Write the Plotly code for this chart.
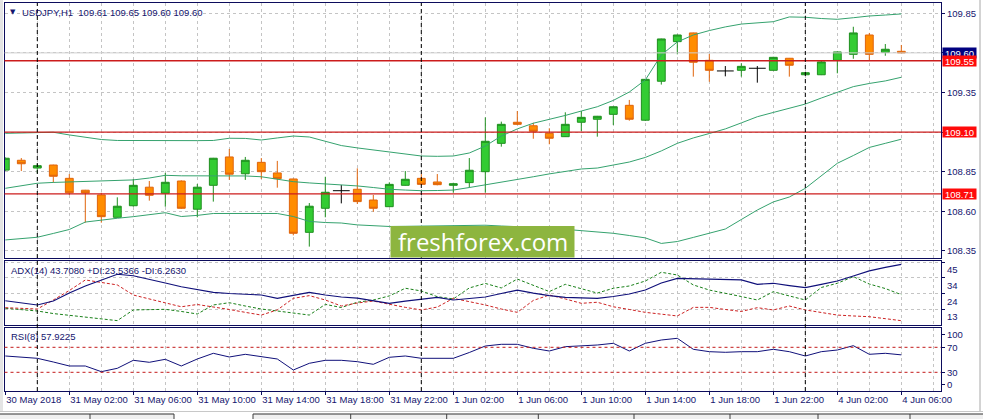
import pandas as pd
import plotly.graph_objects as go

# hourly bars, weekend skipped (30 May 22:00 .. 1 Jun 23:00, 4 Jun 00:00 .. 06:00)
times = list(pd.date_range('2018-05-30 22:00', '2018-06-01 23:00', freq='h')) + \
        list(pd.date_range('2018-06-04 00:00', '2018-06-04 06:00', freq='h'))
bars = list(range(len(times)))

open_ = [108.860, 108.922, 108.873, 108.892, 108.808, 108.733, 108.703, 108.562, 108.635, 108.752,
         108.714, 108.791, 108.613, 108.764, 108.943, 108.837, 108.909, 108.842, 108.804, 108.467,
         108.619, 108.730, 108.739, 108.671, 108.629, 108.764, 108.808, 108.785, 108.764, 108.781,
         108.850, 109.029, 109.162, 109.140, 109.092, 109.071, 109.162, 109.181, 109.212, 109.269,
         109.175, 109.421, 109.671, 109.726, 109.553, 109.486, 109.490, 109.503, 109.490, 109.566,
         109.462, 109.462, 109.553, 109.591, 109.713, 109.604, 109.610]
high = [108.940, 108.936, 108.899, 108.894, 108.835, 108.735, 108.717, 108.688, 108.804, 108.791,
        108.842, 108.795, 108.772, 108.937, 108.993, 108.943, 108.936, 108.918, 108.806, 108.652,
        108.818, 108.766, 108.871, 108.703, 108.783, 108.854, 108.835, 108.835, 108.780, 108.936,
        109.193, 109.166, 109.233, 109.159, 109.124, 109.225, 109.233, 109.202, 109.262, 109.303,
        109.435, 109.690, 109.715, 109.728, 109.593, 109.517, 109.534, 109.517, 109.575, 109.568,
        109.478, 109.549, 109.608, 109.765, 109.726, 109.656, 109.650]
low = [108.855, 108.854, 108.840, 108.780, 108.703, 108.528, 108.528, 108.560, 108.629, 108.667,
       108.629, 108.615, 108.562, 108.661, 108.798, 108.798, 108.804, 108.749, 108.448, 108.377,
       108.562, 108.650, 108.646, 108.597, 108.627, 108.762, 108.765, 108.764, 108.717, 108.749,
       108.717, 109.008, 109.145, 109.058, 109.023, 109.069, 109.107, 109.071, 109.145, 109.172,
       109.170, 109.400, 109.591, 109.450, 109.418, 109.452, 109.450, 109.412, 109.488, 109.450,
       109.460, 109.460, 109.471, 109.563, 109.553, 109.582, 109.600]
close = [108.935, 108.900, 108.888, 108.821, 108.717, 108.716, 108.566, 108.632, 108.764, 108.701,
         108.783, 108.619, 108.752, 108.935, 108.834, 108.922, 108.850, 108.806, 108.461, 108.632,
         108.720, 108.730, 108.661, 108.619, 108.770, 108.802, 108.770, 108.768, 108.774, 108.859,
         109.042, 109.149, 109.149, 109.105, 109.061, 109.149, 109.193, 109.200, 109.260, 109.181,
         109.433, 109.688, 109.713, 109.541, 109.490, 109.486, 109.515, 109.503, 109.572, 109.522,
         109.475, 109.543, 109.606, 109.726, 109.591, 109.623, 109.600]

bb_upper = [109.092, 109.094, 109.099, 109.099, 109.082, 109.069, 109.053, 109.047, 109.046, 109.046,
            109.046, 109.046, 109.046, 109.047, 109.061, 109.060, 109.050, 109.063, 109.075, 109.069,
            109.041, 109.015, 109.000, 108.987, 108.971, 108.959, 108.949, 108.947, 108.949, 108.968,
            109.012, 109.075, 109.120, 109.156, 109.180, 109.205, 109.233, 109.260, 109.300, 109.353,
            109.429, 109.587, 109.669, 109.713, 109.741, 109.764, 109.782, 109.789, 109.797, 109.827,
            109.825, 109.817, 109.812, 109.822, 109.833, 109.839, 109.846]
bb_mid = [108.745, 108.762, 108.777, 108.782, 108.785, 108.788, 108.793, 108.796, 108.798, 108.810,
          108.827, 108.824, 108.823, 108.824, 108.825, 108.823, 108.818, 108.804, 108.787, 108.779,
          108.772, 108.769, 108.760, 108.750, 108.739, 108.734, 108.730, 108.731, 108.734, 108.750,
          108.766, 108.782, 108.801, 108.818, 108.836, 108.851, 108.867, 108.873, 108.892, 108.911,
          108.940, 108.981, 109.029, 109.063, 109.091, 109.120, 109.158, 109.197, 109.224, 109.249,
          109.277, 109.315, 109.353, 109.387, 109.407, 109.423, 109.446]
bb_lower = [108.419, 108.427, 108.436, 108.460, 108.485, 108.532, 108.545, 108.556, 108.566, 108.579,
            108.591, 108.567, 108.574, 108.586, 108.587, 108.587, 108.587, 108.586, 108.567, 108.536,
            108.529, 108.526, 108.514, 108.510, 108.504, 108.505, 108.507, 108.508, 108.510, 108.511,
            108.512, 108.507, 108.504, 108.499, 108.495, 108.486, 108.479, 108.469, 108.461, 108.447,
            108.432, 108.397, 108.409, 108.435, 108.460, 108.488, 108.548, 108.608, 108.659, 108.690,
            108.745, 108.823, 108.903, 108.952, 109.003, 109.029, 109.055]

adx = [19.5, 18.0, 16.7, 19.3, 24.6, 29.3, 33.3, 37.1, 36.1, 33.9,
       31.3, 28.8, 27.0, 25.1, 24.3, 23.8, 23.3, 21.1, 23.0, 25.1,
       23.3, 22.0, 21.3, 19.7, 17.8, 19.3, 20.7, 21.7, 20.0, 21.0,
       22.0, 24.3, 26.6, 24.6, 22.9, 21.8, 21.5, 21.1, 22.3, 24.0,
       26.6, 31.3, 34.4, 34.1, 33.7, 33.5, 33.3, 30.4, 31.1, 29.6,
       28.2, 30.4, 32.6, 35.9, 39.3, 41.6, 43.708]
plus_di = [14.5, 13.6, 12.7, 11.0, 9.8, 8.7, 7.4, 6.3, 13.4, 13.6,
           13.8, 12.4, 10.7, 16.7, 18.2, 16.0, 14.0, 12.7, 11.2, 10.0,
           17.1, 15.0, 18.5, 20.0, 22.7, 27.8, 26.0, 22.2, 20.7, 28.0,
           31.0, 28.0, 33.9, 30.0, 25.6, 30.4, 27.6, 24.6, 27.8, 29.3,
           32.6, 38.4, 36.6, 30.0, 26.6, 24.6, 22.3, 20.0, 25.5, 22.7,
           20.0, 28.3, 31.1, 35.5, 30.6, 27.6, 23.5366]
minus_di = [14.9, 14.5, 14.0, 20.0, 26.3, 33.3, 31.9, 30.0, 23.3, 20.7,
            18.0, 15.5, 17.0, 15.5, 13.7, 11.8, 10.0, 13.4, 21.1, 22.9,
            20.0, 16.0, 18.0, 19.3, 17.1, 15.1, 13.4, 15.3, 21.1, 19.0,
            16.7, 14.0, 11.8, 19.7, 23.3, 20.7, 17.8, 18.5, 15.5, 13.7,
            11.8, 10.6, 9.4, 15.1, 15.1, 13.7, 12.4, 14.9, 13.4, 16.0,
            13.4, 11.7, 10.0, 9.4, 8.9, 7.6, 6.263]

rsi = [56.1, 54.5, 52.4, 46.5, 40.1, 40.1, 31.0, 36.4, 49.2, 46.0,
       50.8, 40.1, 51.3, 60.4, 54.5, 58.8, 54.5, 51.3, 33.7, 44.4,
       49.2, 49.2, 47.0, 42.8, 54.0, 56.1, 52.4, 52.4, 52.4, 61.7,
       72.1, 74.8, 74.8, 68.4, 64.1, 71.0, 72.1, 73.7, 76.4, 64.1,
       76.4, 81.7, 84.4, 66.8, 63.0, 62.0, 63.0, 63.0, 66.8, 63.0,
       56.1, 63.0, 65.7, 72.6, 58.8, 60.4, 57.9225]

tick_bars = list(range(0, 57, 4))
tick_labels = ['30 May 2018', '31 May 02:00', '31 May 06:00', '31 May 10:00', '31 May 14:00',
               '31 May 18:00', '31 May 22:00', '1 Jun 02:00', '1 Jun 06:00', '1 Jun 10:00',
               '1 Jun 14:00', '1 Jun 18:00', '1 Jun 22:00', '4 Jun 02:00', '4 Jun 06:00']
price_ticks = [108.35, 108.60, 108.85, 109.10, 109.35, 109.60, 109.85]
levels = [109.55, 109.10, 108.71]
bid = 109.60
rsi_levels = [70, 30]

W, H = 983, 419
NAVY = '#0c0c5c'
TXT = '#14146e'
FONT = 'Liberation Sans, Arial, sans-serif'
GRID = '#c4c4c4'


def px_x(v):
    return v / W


def px_y(v):
    return 1 - v / H


separators = [i for i, t in zip(bars, times) if t.hour == 0]
doji = [i for i in bars if open_[i] == close[i]]
normal = [i for i in bars if open_[i] != close[i]]

fig = go.Figure()

fig.add_trace(go.Candlestick(
    x=normal, open=[open_[i] for i in normal], high=[high[i] for i in normal],
    low=[low[i] for i in normal], close=[close[i] for i in normal],
    increasing=dict(line=dict(color='#1f8f1f', width=1), fillcolor='#33cc33'),
    decreasing=dict(line=dict(color='#e0640c', width=1), fillcolor='#ff8c00'),
    xaxis='x', yaxis='y'))
fig.add_trace(go.Scatter(
    x=doji, y=[open_[i] for i in doji], mode='markers',
    marker=dict(symbol='line-ew', size=12, line=dict(color='black', width=1)),
    error_y=dict(type='data', symmetric=False,
                 array=[high[i] - open_[i] for i in doji],
                 arrayminus=[open_[i] - low[i] for i in doji],
                 color='black', thickness=1, width=0),
    xaxis='x', yaxis='y'))
for band in (bb_upper, bb_mid, bb_lower):
    fig.add_trace(go.Scatter(x=bars, y=band, mode='lines',
                             line=dict(color='#35a26e', width=1), xaxis='x', yaxis='y'))

fig.add_trace(go.Scatter(x=bars, y=plus_di, mode='lines',
                         line=dict(color='#1a801a', width=1, dash='3px,2px'), xaxis='x2', yaxis='y2'))
fig.add_trace(go.Scatter(x=bars, y=minus_di, mode='lines',
                         line=dict(color='#cc2222', width=1, dash='3px,2px'), xaxis='x2', yaxis='y2'))
fig.add_trace(go.Scatter(x=bars, y=adx, mode='lines',
                         line=dict(color='#10107a', width=1.2), xaxis='x2', yaxis='y2'))

fig.add_trace(go.Scatter(x=bars, y=rsi, mode='lines',
                         line=dict(color='#10107a', width=1), xaxis='x3', yaxis='y3'))

xdom = [px_x(4.5), px_x(941)]
xrange_ = [-0.05, 58.48]
xcommon = dict(domain=xdom, range=xrange_, showline=True, mirror=True, linecolor=NAVY,
               linewidth=1, tickmode='array', tickvals=tick_bars, showgrid=True,
               gridcolor=GRID, griddash='3px,3px', zeroline=False, fixedrange=True,
               automargin=False, tickangle=0,
               minor=dict(tickmode='linear', tick0=0, dtick=2, showgrid=True,
                          gridcolor=GRID, griddash='3px,3px'))
ycommon = dict(side='right', showline=True, mirror=True, linecolor=NAVY, linewidth=1,
               ticks='outside', ticklen=3, tickcolor=NAVY, zeroline=False, automargin=False,
               tickfont=dict(family=FONT, size=9.5, color=TXT), fixedrange=True)

fig.update_layout(
    width=W, height=H, margin=dict(l=0, r=0, t=0, b=0, pad=0), autosize=False,
    paper_bgcolor='white', plot_bgcolor='white', showlegend=False,
    xaxis=dict(xcommon, anchor='y', showticklabels=False, rangeslider=dict(visible=False)),
    xaxis2=dict(xcommon, anchor='y2', showticklabels=False, matches='x'),
    xaxis3=dict(xcommon, anchor='y3', matches='x', ticktext=tick_labels, ticks='outside',
                ticklen=3, tickcolor=NAVY, ticklabelposition='outside right',
                tickfont=dict(family=FONT, size=9.5, color=TXT)),
    yaxis=dict(ycommon, anchor='x', domain=[px_y(258), px_y(3)], range=[108.305, 109.915],
               tickmode='array', tickvals=price_ticks,
               ticktext=['' if v in levels or v == bid else '%.2f' % v for v in price_ticks],
               showgrid=True, gridcolor=GRID, griddash='3px,3px'),
    yaxis2=dict(ycommon, anchor='x2', domain=[px_y(324.5), px_y(261)], range=[3.73, 45.89],
                tickmode='array', tickvals=[45.2, 34.8, 24.4, 14.0],
                ticktext=['45', '34', '24', '13'], ticklabelshift=8,
                showgrid=True, gridcolor=GRID, griddash='3px,3px'),
    yaxis3=dict(ycommon, anchor='x3', domain=[px_y(391), px_y(327.5)], range=[0.08, 101.7],
                tickmode='array', tickvals=[90.8, 70, 30, 10.8],
                ticktext=['100', '70', '30', '0'], showgrid=False),
)

shapes = []
# bid line
shapes.append(dict(type='line', xref='paper', yref='y', x0=xdom[0], x1=xdom[1], y0=bid, y1=bid,
                   line=dict(color='#cfcfcf', width=1)))
for lv in levels:
    shapes.append(dict(type='line', xref='paper', yref='y', x0=xdom[0], x1=xdom[1], y0=lv, y1=lv,
                       line=dict(color='#cc1c1c', width=1.4)))
for lv in rsi_levels:
    shapes.append(dict(type='line', xref='paper', yref='y3', x0=xdom[0], x1=xdom[1], y0=lv, y1=lv,
                       line=dict(color='#c41a1a', width=1, dash='3px,3px')))
for s in separators:
    shapes.append(dict(type='line', xref='x', yref='paper', x0=s, x1=s, y0=px_y(391), y1=px_y(3),
                       line=dict(color='black', width=1, dash='4px,3px')))
# watermark box
shapes.append(dict(type='rect', xref='paper', yref='paper', x0=px_x(390.5), x1=px_x(574.5),
                   y0=px_y(257.5), y1=px_y(226), fillcolor='#8db53f', line=dict(width=0),
                   layer='above'))
# window frame bits
shapes.append(dict(type='rect', xref='paper', yref='paper', x0=0, x1=px_x(3), y0=px_y(411), y1=1,
                   fillcolor='#e4e4e4', line=dict(width=0)))
shapes.append(dict(type='line', xref='paper', yref='paper', x0=px_x(980), x1=px_x(980),
                   y0=px_y(411), y1=1, line=dict(color='#a8a8a8', width=1)))
shapes.append(dict(type='line', xref='paper', yref='paper', x0=0, x1=1,
                   y0=px_y(411.5), y1=px_y(411.5), line=dict(color='#c8c8c8', width=1)))
# terminal tabs along the bottom
for x0, x1 in [(0, 174), (253, 983)]:
    shapes.append(dict(type='rect', xref='paper', yref='paper', x0=px_x(x0), x1=px_x(x1),
                       y0=0, y1=px_y(414), fillcolor='#f0f0f0', line=dict(width=0)))
    shapes.append(dict(type='line', xref='paper', yref='paper', x0=px_x(x0), x1=px_x(x1),
                       y0=px_y(414), y1=px_y(414), line=dict(color='#303030', width=1)))
for tx in [90, 174, 253, 350.7, 446.7, 538.3, 634, 730, 818, 910]:
    shapes.append(dict(type='line', xref='paper', yref='paper', x0=px_x(tx), x1=px_x(tx),
                       y0=0, y1=px_y(414), line=dict(color='#404040', width=1)))
fig.update_layout(shapes=shapes)

ann = []
ann.append(dict(xref='paper', yref='paper', x=px_x(8), y=px_y(12.3), xanchor='left', yanchor='middle',
                text='▼', showarrow=False, font=dict(family='DejaVu Sans', size=7, color=TXT)))
ann.append(dict(xref='paper', yref='paper', x=px_x(20), y=px_y(12.3), xanchor='left', yanchor='middle',
                text='USDJPY,H1  %.2f %.2f %.2f %.2f' % (open_[-1], high[-1], low[-1], close[-1]),
                showarrow=False, font=dict(family=FONT, size=9.5, color=TXT)))
ann.append(dict(xref='paper', yref='paper', x=px_x(9), y=px_y(270.5), xanchor='left', yanchor='middle',
                text='ADX(14) %.4f +DI:%.4f -DI:%.4f' % (adx[-1], plus_di[-1], minus_di[-1]),
                showarrow=False, font=dict(family=FONT, size=9.5, color=TXT)))
ann.append(dict(xref='paper', yref='paper', x=px_x(9), y=px_y(336), xanchor='left', yanchor='middle',
                text='RSI(8) %.4f' % rsi[-1], showarrow=False,
                font=dict(family=FONT, size=9.5, color=TXT)))
ann.append(dict(xref='paper', yref='paper', x=px_x(483), y=px_y(241.5), xanchor='center', yanchor='middle',
                text='freshforex.com', showarrow=False,
                font=dict(family='Open Sans', size=24, color='white')))
# price boxes on the right scale
ann.append(dict(xref='paper', yref='y', x=px_x(942), y=bid, xanchor='left', yanchor='middle',
                text='%.2f' % bid, showarrow=False, bgcolor='#000080', width=33, height=10,
                borderpad=0, font=dict(family=FONT, size=9.5, color='white')))
for lv in levels:
    ann.append(dict(xref='paper', yref='y', x=px_x(942), y=lv, xanchor='left', yanchor='middle',
                    text='%.2f' % lv, showarrow=False, bgcolor='#ff0a0a', width=33, height=10,
                    borderpad=0, font=dict(family=FONT, size=9.5, color='white')))
fig.update_layout(annotations=ann)

fig.write_html("out.html", config={'displayModeBar': False},
               post_script="document.body.style.margin='0';")
